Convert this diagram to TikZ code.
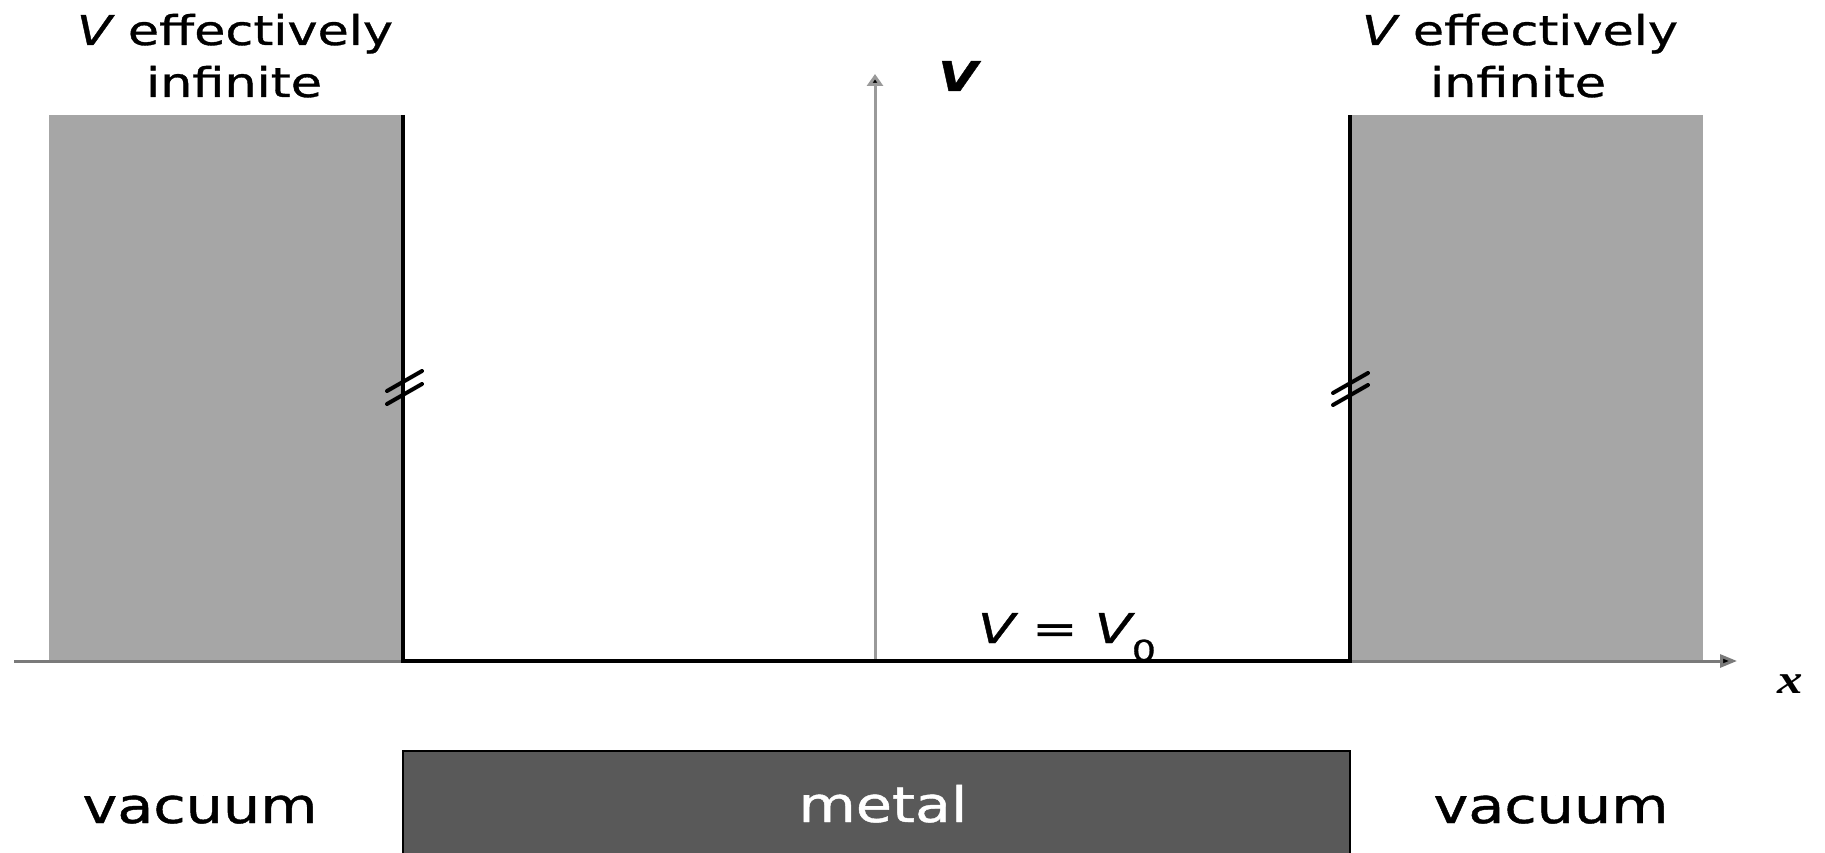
\documentclass[tikz,border=0pt]{standalone}
\usepackage{fontspec}
\setmainfont{DejaVu Sans}[FakeBold=0.8]
\newfontfamily\serifx{Liberation Serif}
\usetikzlibrary{arrows.meta}
\newcommand\wide[1]{\scalebox{1.24}[1]{#1}}
\newcommand\widebot[1]{\scalebox{1.2}[1]{#1}}
\definecolor{barrierc}{HTML}{A6A6A6}
\definecolor{metalc}{HTML}{595959}
\definecolor{vaxisc}{HTML}{9A9A9A}
\definecolor{xaxisc}{HTML}{7A7A7A}
\begin{document}
\begin{tikzpicture}[x=1pt,y=-1pt,
  lbl/.style={anchor=base, inner sep=0pt, font=\fontsize{41}{50}\selectfont},
  botlbl/.style={anchor=base, inner sep=0pt, font=\fontsize{49}{56}\selectfont},
  barrier/.style={fill=barrierc},
  wellline/.style={line width=4.5pt, black, line join=miter},
  breakmark/.style={line width=4pt, black, line cap=round},
  vaxis/.style={line width=3pt, vaxisc, -{Triangle[length=12pt,width=16pt,fill=black]}},
  xaxis/.style={line width=3pt, xaxisc, -{Triangle[length=17pt,width=13pt,fill=black]}},
  metalbox/.style={fill=metalc, draw=black, line width=2.5pt}]
\useasboundingbox (0,0) rectangle (1825,853);
% barriers
\fill[barrier] (49,115) rectangle (403,661);
\fill[barrier] (1350,115) rectangle (1703,661);
% axes
\coordinate (xs) at (14,661);
\coordinate (xe) at (1737,661);
\draw[xaxis] (xs) -- (xe);
\coordinate (vs) at (875,661);
\coordinate (ve) at (875,74);
\draw[vaxis] (vs) -- (ve);
% well
\coordinate (wl) at (403,115);
\coordinate (bl) at (403,661);
\coordinate (br) at (1350,661);
\coordinate (wr) at (1350,115);
\draw[wellline] (wl) -- (bl) -- (br) -- (wr);
% break marks
\coordinate (b1a) at (387,391); \coordinate (b1b) at (422,371);
\coordinate (b2a) at (387,404); \coordinate (b2b) at (422,384);
\draw[breakmark] (b1a) -- (b1b);
\draw[breakmark] (b2a) -- (b2b);
\coordinate (b3a) at (1333,393); \coordinate (b3b) at (1368,373);
\coordinate (b4a) at (1333,405); \coordinate (b4b) at (1368,385);
\draw[breakmark] (b3a) -- (b3b);
\draw[breakmark] (b4a) -- (b4b);
% labels
\node[lbl] (tl1) at (235,45) {\wide{\itshape V\upshape{} effectively}};
\node[lbl] (tl2) at (234,97) {\wide{infinite}};
\node[lbl] (tr1) at (1520,45) {\wide{\itshape V\upshape{} effectively}};
\node[lbl] (tr2) at (1518,97) {\wide{infinite}};
\node[lbl] (vlab) at (958,91) {\wide{\bfseries\itshape V}};
\node[lbl] (v0) at (1067,643) {\scalebox{1.32}[1]{\itshape V\upshape{} = \itshape V\raisebox{-18pt}{\fontsize{29}{30}\selectfont\upshape 0}}};
\node[lbl] (xlab) at (1790,693) {\wide{\serifx\bfseries\itshape x}};
% metal
\node[metalbox, minimum width=947pt, minimum height=104pt, inner sep=0pt] (metal) at (876.5,803) {};
\node[botlbl, white] (metaltxt) at (883,822) {\widebot{metal}};
\node[botlbl] (vacl) at (200,823) {\widebot{vacuum}};
\node[botlbl] (vacr) at (1551,823) {\widebot{vacuum}};
\end{tikzpicture}
\end{document}
